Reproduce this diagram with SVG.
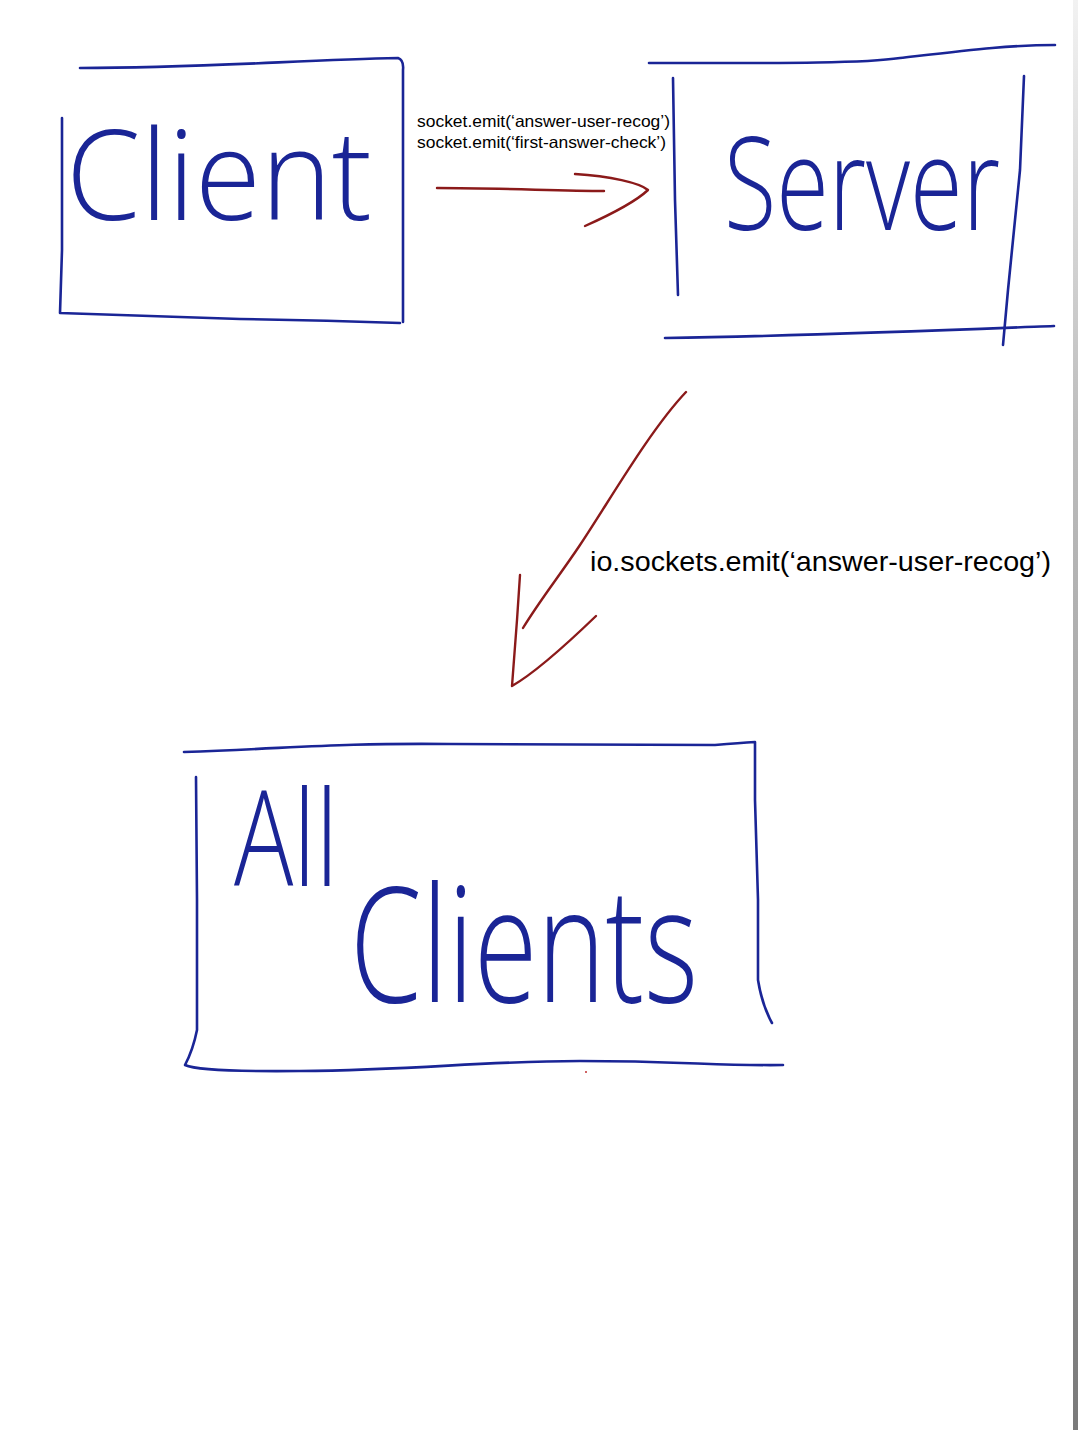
<svg xmlns="http://www.w3.org/2000/svg" width="1078" height="1430" viewBox="0 0 1078 1430">
<defs>
<style>
.box{fill:none;stroke:#1a2596;stroke-width:2.6;stroke-linecap:round;stroke-linejoin:round}
.arr{fill:none;stroke:#8b1a1a;stroke-width:2.4;stroke-linecap:round;stroke-linejoin:round}
.hw{fill:#1a2596;font-family:"Open Sans","Liberation Sans",sans-serif;font-weight:300}
.lbl{fill:#000;font-family:"Liberation Sans",Arial,sans-serif}
</style>
<linearGradient id="edge" x1="0" y1="0" x2="0" y2="1">
<stop offset="0" stop-color="#f2f2f2"/>
<stop offset="0.3" stop-color="#bdbdbd"/>
<stop offset="1" stop-color="#7a7a7a"/>
</linearGradient>
</defs>
<rect width="1078" height="1430" fill="#fff"/>
<rect x="1073" y="0" width="5" height="1430" fill="url(#edge)"/>

<g id="client">
<path class="box" d="M80 68 C200 68 300 60 398 58 Q404 60 403 70 L403 322"/>
<path class="box" d="M62 118 L62 250 L60 313 L240 319 Q320 320 400 323"/>
<text class="hw" x="66" y="220" font-size="126" textLength="306" lengthAdjust="spacingAndGlyphs">Client</text>
</g>

<g id="server">
<path class="box" d="M649 63 C760 63 860 64 900 58 C970 50 1010 45 1055 45"/>
<path class="box" d="M673 78 L675 200 L678 295"/>
<path class="box" d="M1024 76 L1020 170 L1008 290 L1003 345"/>
<path class="box" d="M665 338 C800 336 950 330 1054 326"/>
<text class="hw" transform="translate(724 230) scale(1 1.3)" x="0" y="0" font-size="100" textLength="276" lengthAdjust="spacingAndGlyphs">Server</text>
</g>

<g id="all-clients">
<path class="box" d="M184 752 C300 748 330 743 450 744 L715 745 Q740 743 755 742 L755 800 L758 900 L758 980 Q762 1005 772 1023"/>
<path class="box" d="M196 777 L197 900 L197 1030 Q193 1050 185 1065 Q200 1072 300 1071 C420 1070 480 1061 580 1061 C680 1061 720 1066 783 1065"/>
<text class="hw" x="234" y="886" font-size="132" textLength="104" lengthAdjust="spacingAndGlyphs">All</text>
<text class="hw" x="350" y="1002" font-size="160" textLength="348" lengthAdjust="spacingAndGlyphs">Clients</text>
</g>

<g id="connectors">
<path class="arr" d="M437 188 C500 188 560 191 604 191"/>
<path class="arr" d="M575 174 C610 176 640 183 648 190 Q632 205 585 226"/>
<path class="arr" d="M686 392 C650 430 610 500 580 545 C560 575 540 600 523 628"/>
<path class="arr" d="M520 575 L517 620 L512 686 Q540 670 596 616"/>
</g>
<circle cx="586" cy="1072" r="1" fill="#c03030"/>

<g id="labels">
<text class="lbl" x="417" y="127" font-size="16.5" textLength="253" lengthAdjust="spacingAndGlyphs">socket.emit(‘answer-user-recog’)</text>
<text class="lbl" x="417" y="148" font-size="16.5" textLength="249" lengthAdjust="spacingAndGlyphs">socket.emit(‘first-answer-check’)</text>
<text class="lbl" x="590" y="571" font-size="27.5" textLength="461" lengthAdjust="spacingAndGlyphs">io.sockets.emit(‘answer-user-recog’)</text>
</g>
</svg>
